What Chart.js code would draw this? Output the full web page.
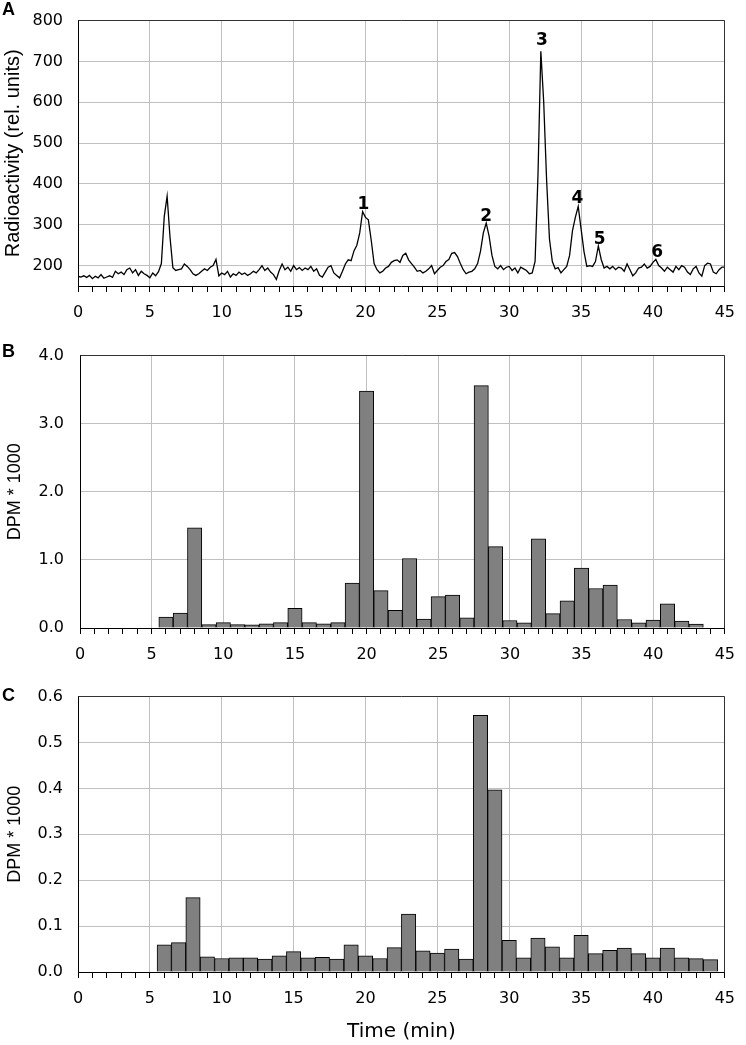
<!DOCTYPE html>
<html>
<head>
<meta charset="utf-8">
<script src="https://cdn.jsdelivr.net/npm/chart.js@4.4.1/dist/chart.umd.min.js"></script>
<style>
  html, body { margin: 0; padding: 0; background: #fff; }
  body { width: 746px; height: 1045px; position: relative; overflow: hidden; }
  .panel { position: absolute; left: 0; width: 746px; }
  .letter { position: absolute; left: 2px; font: bold 18px "Liberation Sans", Arial, sans-serif; line-height: 18px; color: #000; }
</style>
</head>
<body>
<div class="panel" style="top:-4px;height:334px"><canvas id="chartA"></canvas></div>
<div class="panel" style="top:330px;height:342px"><canvas id="chartB"></canvas></div>
<div class="panel" style="top:672px;height:373px"><canvas id="chartC"></canvas></div>
<div class="letter" style="top:0px">A</div>
<div class="letter" style="top:342px">B</div>
<div class="letter" style="top:686px">C</div>
<script>
// ---------------- DATA ----------------
// Panel A: radioactivity trace, sampled every 0.2 min from 0 to 45 min
const TRACE_STEP = 0.2;
const radioactivity = [
  174,172,175,171,176, 168,174,170,178,169, 172,175,171,186,180, 184,178,190,194,182,
  190,176,186,180,176, 170,182,175,185,205, 320,370,270,195,188, 190,192,204,198,190,
  180,176,180,186,192, 188,196,200,215,175, 182,178,186,172,180, 176,184,178,182,176,
  180,186,182,190,200, 188,194,184,178,166, 188,204,190,196,186, 200,190,195,188,194,
  190,198,186,192,176, 172,184,196,200,182, 176,170,186,204,214, 212,236,250,280,332,
  318,312,262,205,190, 182,186,194,198,208, 212,214,208,225,230, 214,205,196,186,188,
  182,186,192,200,180, 188,196,200,210,215, 230,232,222,205,190, 180,184,186,192,205,
  235,280,304,272,225, 198,192,200,190,196, 198,188,194,182,196, 192,188,180,182,210,
  420,725,600,410,265, 210,192,195,182,190, 198,225,285,318,345, 290,235,198,200,198,
  210,248,215,194,198, 192,198,190,196,194, 186,204,190,175,182, 194,196,204,194,198,
  208,215,200,194,186, 196,190,184,198,190, 200,196,184,178,192, 198,182,174,200,206,
  204,184,180,190,196, 196
];
const radioTicks = [200, 300, 400, 500, 600, 700, 800];
const peakNames   = ['1', '2', '3', '4', '5', '6'];
const peakTimes   = [19.85, 28.4, 32.27, 34.75, 36.3, 40.3];
const peakHeights = [333, 305, 735, 348, 248, 216];

// Panel B: fractions (min) and DPM * 1000
const fractionsB = [6,7,8,9,10,11,12,13,14,15,16,17,18,19,20,21,22,23,24,25,26,27,28,29,30,31,32,33,34,35,36,37,38,39,40,41,42,43];
const dpmB = [0.16,0.22,1.47,0.05,0.08,0.05,0.045,0.06,0.08,0.29,0.08,0.06,0.08,0.66,3.48,0.55,0.26,1.02,0.13,0.46,0.485,0.15,3.56,1.195,0.11,0.077,1.31,0.21,0.40,0.88,0.58,0.63,0.125,0.077,0.115,0.355,0.10,0.058];

// Panel C: fractions (min) and DPM * 1000
const fractionsC = [6,7,8,9,10,11,12,13,14,15,16,17,18,19,20,21,22,23,24,25,26,27,28,29,30,31,32,33,34,35,36,37,38,39,40,41,42,43,44];
const dpmC = [0.059,0.064,0.162,0.033,0.0295,0.031,0.031,0.028,0.035,0.0445,0.031,0.032,0.028,0.059,0.035,0.0295,0.053,0.126,0.046,0.041,0.050,0.028,0.559,0.397,0.069,0.031,0.074,0.055,0.031,0.080,0.040,0.047,0.052,0.040,0.031,0.052,0.031,0.029,0.027];

const timeMin = 0, timeMax = 45;

// ---------------- STYLE / HELPERS ----------------
const TICK_FONT = { family: 'DejaVu Sans', size: 16 };
const GRID = '#c0c0c0';

const framePlugin = {
  id: 'frame',
  afterDraw(chart) {
    const { ctx, chartArea: a } = chart;
    const t = Math.floor(a.top) + 0.5, r = Math.floor(a.right) + 0.5;
    ctx.save();
    ctx.strokeStyle = '#333';
    ctx.lineWidth = 1;
    ctx.beginPath();
    ctx.moveTo(Math.floor(a.left) + 0.5, t);
    ctx.lineTo(r, t);
    ctx.lineTo(r, Math.floor(a.bottom) + 0.5);
    ctx.stroke();
    ctx.restore();
  }
};

const peakLabelPlugin = {
  id: 'peakLabels',
  afterDatasetsDraw(chart) {
    const { ctx, scales } = chart;
    ctx.save();
    ctx.fillStyle = '#000';
    ctx.font = 'bold 17px "DejaVu Sans"';
    ctx.textAlign = 'center';
    ctx.textBaseline = 'alphabetic';
    peakNames.forEach((name, i) => {
      const x = scales.x.getPixelForValue(peakTimes[i]);
      const y = scales.y.getPixelForValue(peakHeights[i]) - 2;
      ctx.fillText(name, x, y);
    });
    ctx.restore();
  }
};

function xAxis(height, withTitle) {
  return {
    type: 'linear', min: timeMin, max: timeMax, offset: false,
    ticks: {
      stepSize: 1, maxTicksLimit: 100, autoSkip: false, maxRotation: 0, minRotation: 0,
      padding: 11, color: '#000', font: TICK_FONT,
      callback: v => (v % 5 === 0 ? String(v) : '')
    },
    grid: {
      offset: false, lineWidth: 1, tickLength: 6, tickColor: '#000',
      color: c => (c.tick && c.tick.value % 5 === 0) ? GRID : 'rgba(0,0,0,0)'
    },
    border: { color: '#000', width: 1 },
    title: withTitle ? {
      display: true, text: 'Time (min)', color: '#000',
      font: { family: 'DejaVu Sans', size: 20 }, padding: { top: 0, bottom: 1 }
    } : { display: false },
    afterFit: s => { s.height = height; }
  };
}

function yAxis(opts) {
  return {
    min: opts.min, max: opts.max,
    afterBuildTicks: opts.ticks ? (s => { s.ticks = opts.ticks.map(v => ({ value: v })); }) : undefined,
    ticks: Object.assign({ padding: opts.pad, color: '#000', font: TICK_FONT }, opts.tickOpts || {}),
    grid: { color: GRID, lineWidth: 1, drawTicks: false },
    border: { color: '#000', width: 1 },
    title: {
      display: true, text: opts.title, color: '#000',
      font: { family: 'Liberation Sans', size: opts.titleSize }, padding: { top: opts.titlePad, bottom: 0 }
    },
    afterFit: s => { s.width = opts.width; }
  };
}

const common = {
  responsive: true, maintainAspectRatio: false, animation: false,
  plugins: { legend: { display: false }, tooltip: { enabled: false } }
};

// ---------------- PANEL A ----------------
new Chart(document.getElementById('chartA'), {
  type: 'line',
  data: {
    datasets: [{
      data: radioactivity.map((v, i) => ({ x: +(i * TRACE_STEP).toFixed(1), y: v })),
      borderColor: '#000', borderWidth: 1.3, pointRadius: 0, tension: 0, fill: false
    }]
  },
  options: Object.assign({}, common, {
    layout: { padding: { top: 12, right: 12, left: 0, bottom: 0 } },
    scales: {
      x: xAxis(44, false),
      y: yAxis({ min: 150, max: 800, ticks: radioTicks, pad: 15, title: 'Radioactivity (rel. units)', titleSize: 20, titlePad: 1, width: 78 })
    }
  }),
  plugins: [framePlugin, peakLabelPlugin]
});

function barDataset(xs, ys) {
  return {
    data: xs.map((x, i) => ({ x: x, y: ys[i] })),
    backgroundColor: '#808080', borderColor: '#000', borderWidth: 1,
    barPercentage: 1.0, categoryPercentage: 1.0
  };
}

// ---------------- PANEL B ----------------
new Chart(document.getElementById('chartB'), {
  type: 'bar',
  data: { datasets: [barDataset(fractionsB, dpmB)] },
  options: Object.assign({}, common, {
    layout: { padding: { top: 20, right: 10, left: 0, bottom: 0 } },
    scales: {
      x: xAxis(44, false),
      y: yAxis({ min: 0, max: 4, pad: 16, title: 'DPM * 1000', titleSize: 18, titlePad: 4, width: 80,
                 tickOpts: { stepSize: 1, callback: v => Number(v).toFixed(1) } })
    }
  }),
  plugins: [framePlugin]
});

// ---------------- PANEL C ----------------
new Chart(document.getElementById('chartC'), {
  type: 'bar',
  data: { datasets: [barDataset(fractionsC, dpmC)] },
  options: Object.assign({}, common, {
    layout: { padding: { top: 21, right: 12, left: 0, bottom: 0 } },
    scales: {
      x: xAxis(73, true),
      y: yAxis({ min: 0, max: 0.6, pad: 15, title: 'DPM * 1000', titleSize: 18, titlePad: 4, width: 78,
                 tickOpts: { stepSize: 0.1, callback: v => Number(v).toFixed(1) } })
    }
  }),
  plugins: [framePlugin]
});
</script>
</body>
</html>
